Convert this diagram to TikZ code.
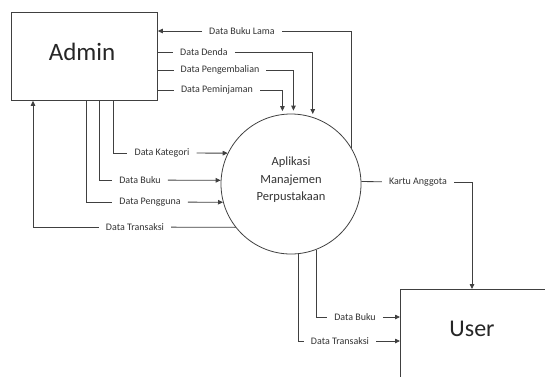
\documentclass[tikz,border=0pt]{standalone}
\usepackage{fontspec}
\setmainfont{Carlito}
\usepackage{tikz}
\usetikzlibrary{positioning,arrows.meta,calc}
\definecolor{lineclr}{gray}{0.25}
\tikzset{
  entity/.style={draw=lineclr, line width=0.8pt, shape=rectangle, anchor=north west, inner sep=0pt},
  process/.style={draw=lineclr, line width=0.8pt, shape=circle, minimum size=140pt, inner sep=0pt},
  flowlbl/.style={font=\fontsize{10}{12}\selectfont, text=black!80, inner xsep=7pt, inner ysep=1pt},
  line/.style={draw=lineclr, line width=0.8pt},
  flow/.style={line, -{Triangle[length=5pt,width=4.5pt]}},
}
\begin{document}
\begin{tikzpicture}[x=1pt,y=-1pt]
    \useasboundingbox (0,0) rectangle (545,376);
    \clip (0,0) rectangle (545,376);
    % entities and process
    \node[entity, minimum width=146pt, minimum height=88pt] (admin) at (11,12) {};
    \node[font=\fontsize{25}{30}\selectfont, text=black!85] (admintxt) at (82,52) {Admin};
    \node[entity, minimum width=170pt, minimum height=120pt] (user) at (400,289) {};
    \node[font=\fontsize{24}{29}\selectfont, text=black!85] (usertxt) at (472,329) {User};
    \node[process] (app) at (291,184) {};
    \node[font=\fontsize{12.5}{17.5}\selectfont, text=black!80, align=center] (apptxt) at (291,180) {Aplikasi\\Manajemen\\Perpustakaan};
    % labels
    \node[flowlbl] (lbBukuLama) at (242,31) {Data Buku Lama};
    \node[flowlbl] (lbDenda) at (204,52) {Data Denda};
    \node[flowlbl] (lbKembali) at (220,70) {Data Pengembalian};
    \node[flowlbl] (lbPinjam) at (217,90) {Data Peminjaman};
    \node[flowlbl] (lbKategori) at (162,153) {Data Kategori};
    \node[flowlbl] (lbBukuA) at (140,180) {Data Buku};
    \node[flowlbl] (lbPengguna) at (150,202) {Data Pengguna};
    \node[flowlbl] (lbTransA) at (135,227) {Data Transaksi};
    \node[flowlbl] (lbKartu) at (418,182) {Kartu Anggota};
    \node[flowlbl] (lbBukuB) at (355,317) {Data Buku};
    \node[flowlbl] (lbTransB) at (340,341) {Data Transaksi};
    % admin <-> aplikasi
    \draw[line] (app.31) |- (lbBukuLama);
    \draw[flow] (lbBukuLama) -- (admin.east |- lbBukuLama);
    \draw[line] (admin.east |- lbDenda) -- (lbDenda);
    \draw[flow, shorten >=3pt] (lbDenda) -| (app.72);
    \draw[line] (admin.east |- lbKembali) -- (lbKembali);
    \draw[flow, shorten >=3pt] (lbKembali) -| (app.88);
    \draw[line] (admin.east |- lbPinjam) -- (lbPinjam);
    \draw[flow, shorten >=3pt] (lbPinjam) -| (app.97);
    \draw[line] (113,0 |- admin.south) |- (lbKategori);
    \draw[flow] (lbKategori) -- (app.154);
    \draw[line] (99,0 |- admin.south) |- (lbBukuA);
    \draw[flow] (lbBukuA) -- (app.177);
    \draw[line] (86,0 |- admin.south) |- (lbPengguna);
    \draw[flow] (lbPengguna) -- (app.195);
    \draw[line] (app.218) -- (lbTransA);
    \draw[flow] (lbTransA) -| (33,0 |- admin.south);
    % aplikasi -> user
    \draw[line] (app.2) -- (lbKartu);
    \draw[flow] (lbKartu) -| (472,0 |- user.north);
    \draw[line] (app.-69) |- (lbBukuB);
    \draw[flow] (lbBukuB) -- (user.west |- lbBukuB);
    \draw[line] (app.-84) |- (lbTransB);
    \draw[flow] (lbTransB) -- (user.west |- lbTransB);
\end{tikzpicture}
\end{document}
